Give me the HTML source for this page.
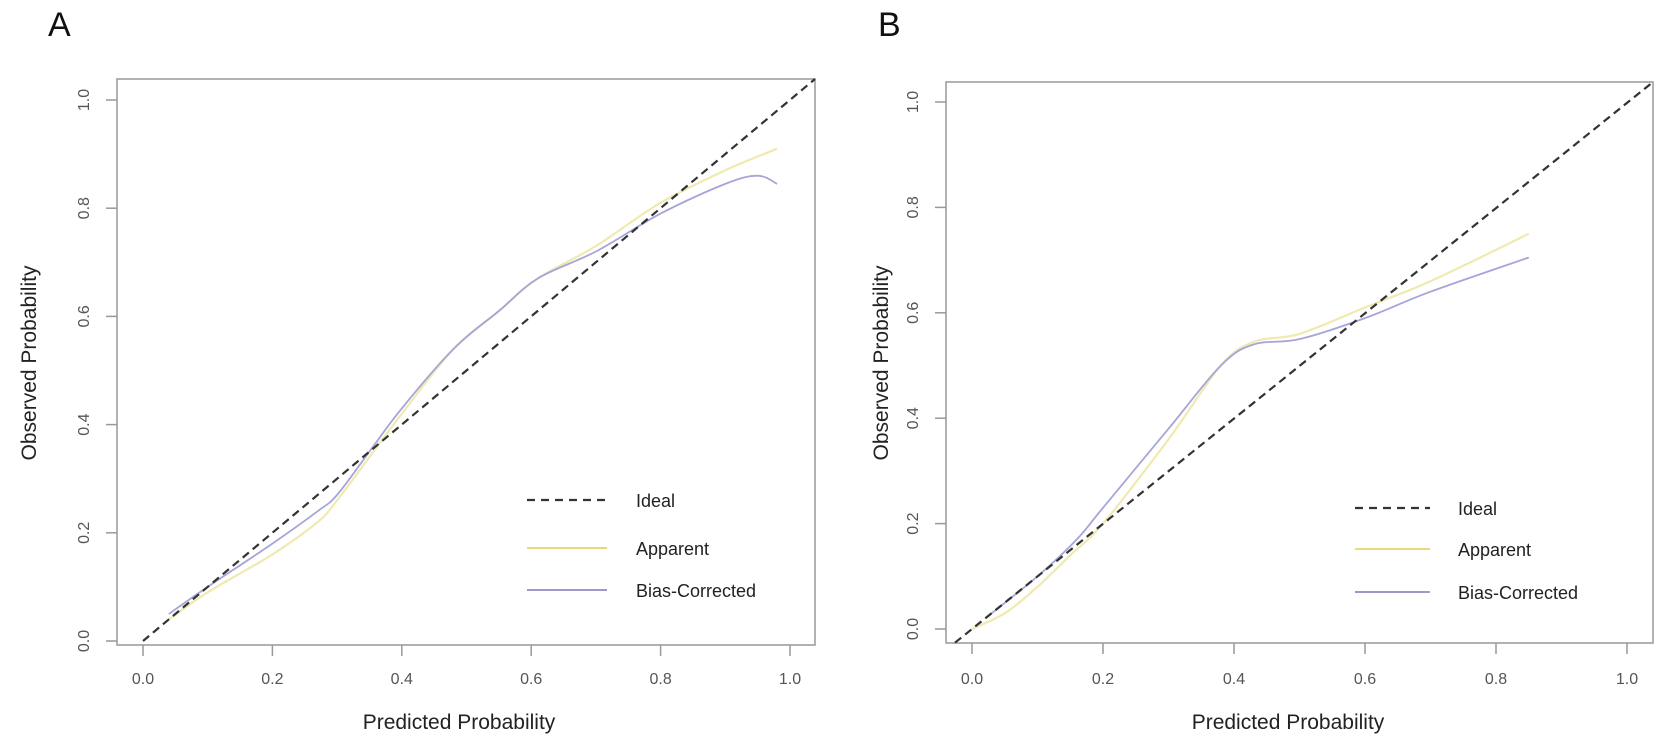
<!DOCTYPE html>
<html><head><meta charset="utf-8"><style>
html,body{margin:0;padding:0;background:#fff;}
svg{display:block;font-family:"Liberation Sans",Arial,sans-serif;}
</style></head><body>
<svg id="s" width="1675" height="752" viewBox="0 0 1675 752" xmlns="http://www.w3.org/2000/svg">
<rect width="1675" height="752" fill="#fff"/>
<text x="48" y="36" font-size="34" fill="#111">A</text>
<text x="878" y="36" font-size="34" fill="#111">B</text>
<g id="gA"></g><g id="gB"></g>
</svg>
<script>
var NS="http://www.w3.org/2000/svg";
function el(g,t,a,txt){var e=document.createElementNS(NS,t);for(var k in a)e.setAttribute(k,a[k]);if(txt!==undefined)e.textContent=txt;g.appendChild(e);return e;}
function smooth(pts){var d="M"+pts[0][0].toFixed(1)+","+pts[0][1].toFixed(1);
 for(var i=0;i<pts.length-1;i++){var p0=pts[i-1]||pts[i],p1=pts[i],p2=pts[i+1],p3=pts[i+2]||p2;
 var c1=[p1[0]+(p2[0]-p0[0])/6,p1[1]+(p2[1]-p0[1])/6],c2=[p2[0]-(p3[0]-p1[0])/6,p2[1]-(p3[1]-p1[1])/6];
 d+=" C"+c1[0].toFixed(1)+","+c1[1].toFixed(1)+" "+c2[0].toFixed(1)+","+c2[1].toFixed(1)+" "+p2[0].toFixed(1)+","+p2[1].toFixed(1);}
 return d;}
function panel(id,c){
 var g=document.getElementById(id);
 var X=function(v){return c.x0+v*c.xu;},Y=function(v){return c.y0-v*c.yu;};
 el(g,"rect",{x:c.L,y:c.T,width:c.R-c.L,height:c.B-c.T,fill:"none",stroke:"#999","stroke-width":1.5});
 for(var i=0;i<=5;i++){var v=i*0.2,s=v.toFixed(1);
  el(g,"line",{x1:X(v),y1:c.B,x2:X(v),y2:c.B+11,stroke:"#999","stroke-width":1.5});
  el(g,"text",{x:X(v),y:684,"font-size":16,fill:"#555","text-anchor":"middle"},s);
  el(g,"line",{x1:c.L-11,y1:Y(v),x2:c.L,y2:Y(v),stroke:"#999","stroke-width":1.5});
  el(g,"text",{x:0,y:0,"font-size":16,fill:"#555","text-anchor":"middle",transform:"translate("+(c.L-28)+","+Y(v)+") rotate(-90)"},s);}
 el(g,"text",{x:c.xt,y:729,"font-size":21,fill:"#222","text-anchor":"middle"},"Predicted Probability");
 el(g,"text",{x:0,y:0,"font-size":21,fill:"#222","text-anchor":"middle",transform:"translate("+c.yt+",363) rotate(-90)"},"Observed Probability");
 var map=function(a){return a.map(function(p){return [X(p[0]),Y(p[1])];});};
 el(g,"path",{d:smooth(map(c.app)),fill:"none",stroke:"#f0eab0","stroke-width":2.2});
 el(g,"path",{d:smooth(map(c.bias)),fill:"none",stroke:"#a8a4d8","stroke-width":1.8});
 el(g,"line",{x1:X(c.ls),y1:Y(c.ls),x2:c.R,y2:c.T,stroke:"#333","stroke-width":2.2,"stroke-dasharray":"8,5"});
 var lg=c.lg;
 el(g,"line",{x1:lg.x1,y1:lg.y[0],x2:lg.x2,y2:lg.y[0],stroke:"#333","stroke-width":2.2,"stroke-dasharray":"8,6"});
 el(g,"line",{x1:lg.x1,y1:lg.y[1],x2:lg.x2,y2:lg.y[1],stroke:"#ead87a","stroke-width":2});
 el(g,"line",{x1:lg.x1,y1:lg.y[2],x2:lg.x2,y2:lg.y[2],stroke:"#9d99cc","stroke-width":2});
 var n=["Ideal","Apparent","Bias-Corrected"];
 for(var j=0;j<3;j++)el(g,"text",{x:lg.tx,y:lg.y[j]+7,"font-size":18,fill:"#222"},n[j]);
}
panel("gA",{L:117,R:815,T:79,B:645,x0:143,xu:647,y0:641,yu:541,xt:459,yt:36,ls:0,
 app:[[0.04,0.04],[0.1,0.09],[0.2,0.16],[0.27,0.22],[0.3,0.26],[0.35,0.34],[0.4,0.42],[0.48,0.54],[0.55,0.61],[0.61,0.67],[0.7,0.73],[0.8,0.81],[0.9,0.87],[0.98,0.91]],
 bias:[[0.04,0.05],[0.1,0.1],[0.2,0.18],[0.27,0.24],[0.3,0.27],[0.35,0.35],[0.4,0.43],[0.48,0.54],[0.55,0.61],[0.61,0.67],[0.7,0.72],[0.8,0.79],[0.9,0.845],[0.95,0.86],[0.98,0.845]],
 lg:{x1:527,x2:607,y:[500,548,590],tx:636}});
panel("gB",{L:946,R:1653,T:82,B:643,x0:972,xu:655,y0:629,yu:527,xt:1288,yt:888,ls:-0.026,
 app:[[0.0,0.0],[0.05,0.03],[0.1,0.08],[0.15,0.14],[0.2,0.2],[0.3,0.36],[0.38,0.5],[0.43,0.545],[0.5,0.56],[0.6,0.61],[0.7,0.66],[0.85,0.75]],
 bias:[[0.02,0.02],[0.1,0.1],[0.16,0.17],[0.2,0.23],[0.3,0.38],[0.38,0.5],[0.43,0.54],[0.5,0.55],[0.6,0.59],[0.7,0.64],[0.85,0.705]],
 lg:{x1:1355,x2:1430,y:[508,549,592],tx:1458}});
</script>
</body></html>
